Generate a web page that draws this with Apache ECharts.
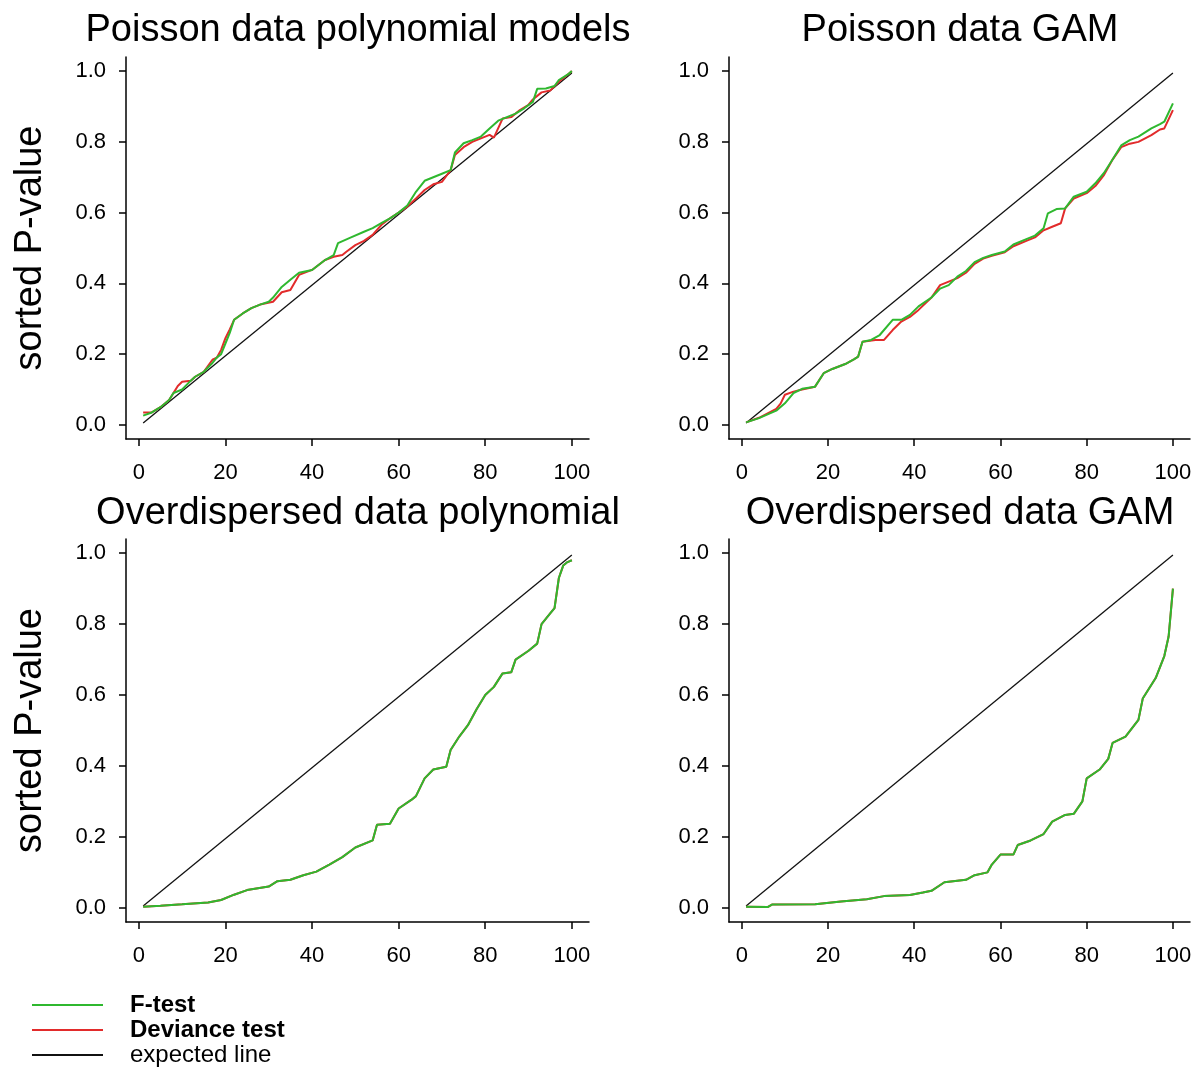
<!DOCTYPE html>
<html>
<head>
<meta charset="utf-8">
<script src="https://cdn.jsdelivr.net/npm/echarts@6/dist/echarts.min.js"></script>
<style>
  html, body { margin: 0; background: #fff; }
  #main { width: 1201px; height: 1071px; }
</style>
</head>
<body>
<div id="main"></div>
<script>
// tick labels
const xTicks = [0, 20, 40, 60, 80, 100]
const yTicks = [0, 0.2, 0.4, 0.6, 0.8, 1.0]

const panelTitles = [
  'Poisson data polynomial models',
  'Poisson data GAM',
  'Overdispersed data polynomial',
  'Overdispersed data GAM'
]

// expected line: straight from first to last rank
const expectedLine = [[1, 0.005], [100, 0.995]]

// sorted p-values [rank, p]
const poissonPolyF = [[1, 0.026], [3, 0.035], [5, 0.05], [7, 0.07], [8, 0.09], [10, 0.1], [12, 0.125], [13, 0.136], [15, 0.15], [17, 0.175], [18, 0.19], [19, 0.2], [20, 0.23], [21, 0.26], [22, 0.297], [24, 0.315], [26, 0.33], [28, 0.34], [30, 0.348], [31, 0.36], [33, 0.39], [35, 0.41], [37, 0.43], [40, 0.438], [43, 0.466], [45, 0.48], [46, 0.514], [49, 0.53], [52, 0.546], [54, 0.556], [56, 0.57], [58, 0.584], [60, 0.6], [62, 0.62], [64, 0.659], [66, 0.69], [68, 0.7], [70, 0.71], [72, 0.72], [73, 0.77], [75, 0.796], [77, 0.805], [79, 0.815], [81, 0.838], [83, 0.86], [85, 0.87], [87, 0.88], [89, 0.895], [91, 0.913], [92, 0.95], [94, 0.951], [96, 0.958], [97, 0.975], [99, 0.99], [100, 1.0]]
const poissonPolyDev = [[1, 0.035], [3, 0.035], [5, 0.05], [7, 0.07], [9, 0.11], [10, 0.122], [12, 0.125], [13, 0.136], [15, 0.15], [17, 0.184], [18, 0.19], [19, 0.212], [20, 0.245], [21, 0.27], [22, 0.297], [24, 0.315], [26, 0.33], [28, 0.34], [31, 0.348], [33, 0.375], [35, 0.381], [37, 0.424], [40, 0.438], [43, 0.466], [45, 0.475], [47, 0.48], [48, 0.49], [50, 0.508], [52, 0.52], [54, 0.537], [56, 0.565], [58, 0.584], [60, 0.6], [62, 0.617], [64, 0.64], [66, 0.664], [68, 0.68], [70, 0.687], [72, 0.72], [73, 0.763], [75, 0.785], [77, 0.8], [79, 0.81], [81, 0.82], [82, 0.812], [84, 0.866], [86, 0.87], [88, 0.89], [90, 0.905], [91, 0.92], [93, 0.94], [95, 0.945], [97, 0.97], [99, 0.99], [100, 1.0]]

const poissonGamF = [[1, 0.007], [4, 0.019], [8, 0.04], [10, 0.061], [12, 0.09], [14, 0.102], [17, 0.108], [19, 0.146], [21, 0.158], [24, 0.172], [26, 0.185], [27, 0.193], [28, 0.235], [30, 0.24], [32, 0.254], [35, 0.297], [37, 0.297], [39, 0.311], [41, 0.335], [44, 0.36], [46, 0.385], [48, 0.395], [50, 0.419], [52, 0.435], [54, 0.46], [56, 0.472], [58, 0.48], [61, 0.49], [63, 0.51], [66, 0.525], [68, 0.535], [70, 0.556], [71, 0.598], [73, 0.61], [75, 0.612], [77, 0.645], [80, 0.659], [82, 0.683], [84, 0.712], [86, 0.75], [88, 0.79], [90, 0.805], [92, 0.815], [95, 0.838], [97, 0.85], [98, 0.857], [100, 0.909]]
const poissonGamDev = [[1, 0.007], [4, 0.02], [8, 0.045], [9, 0.06], [10, 0.085], [12, 0.094], [14, 0.1], [17, 0.108], [19, 0.146], [21, 0.158], [24, 0.172], [26, 0.185], [27, 0.193], [28, 0.235], [31, 0.24], [33, 0.24], [35, 0.268], [37, 0.292], [39, 0.305], [41, 0.325], [44, 0.36], [46, 0.395], [48, 0.405], [50, 0.415], [52, 0.43], [54, 0.455], [56, 0.47], [58, 0.478], [61, 0.488], [63, 0.505], [66, 0.52], [68, 0.53], [70, 0.55], [72, 0.56], [74, 0.57], [75, 0.612], [77, 0.64], [80, 0.655], [82, 0.675], [84, 0.706], [86, 0.75], [88, 0.785], [90, 0.795], [92, 0.8], [95, 0.819], [97, 0.835], [98, 0.838], [100, 0.89]]

const overPolyF = [[1, 0.003], [5, 0.006], [10, 0.01], [16, 0.015], [19, 0.022], [22, 0.037], [25, 0.05], [30, 0.06], [32, 0.075], [35, 0.079], [38, 0.092], [41, 0.102], [44, 0.122], [47, 0.143], [50, 0.17], [54, 0.19], [55, 0.234], [58, 0.237], [60, 0.28], [63, 0.305], [64, 0.315], [66, 0.365], [68, 0.39], [71, 0.398], [72, 0.445], [74, 0.483], [76, 0.515], [78, 0.56], [80, 0.6], [82, 0.623], [84, 0.661], [86, 0.664], [87, 0.7], [90, 0.725], [92, 0.745], [93, 0.8], [95, 0.83], [96, 0.845], [97, 0.93], [98, 0.965], [99, 0.975], [100, 0.98]]
const overGamF = [[1, 0.003], [6, 0.002], [7, 0.009], [17, 0.01], [23, 0.018], [29, 0.024], [33, 0.033], [39, 0.036], [42, 0.043], [44, 0.048], [47, 0.072], [52, 0.079], [54, 0.092], [57, 0.1], [58, 0.122], [60, 0.15], [63, 0.15], [64, 0.177], [67, 0.19], [70, 0.208], [72, 0.243], [75, 0.262], [77, 0.265], [79, 0.3], [80, 0.365], [83, 0.39], [85, 0.42], [86, 0.465], [89, 0.483], [92, 0.53], [93, 0.59], [96, 0.648], [98, 0.71], [99, 0.765], [100, 0.9]]
// deviance test sits exactly under the F-test in the overdispersed panels
const overPolyDev = overPolyF
const overGamDev = overGamF

const fData = [poissonPolyF, poissonGamF, overPolyF, overGamF]
const devData = [poissonPolyDev, poissonGamDev, overPolyDev, overGamDev]

const FONT = 'Liberation Sans, Arial, sans-serif'
const GREEN = '#2fb82f'
const RED = '#e22b2b'
const BLACK = '#111'

const grids = [
  { left: 126, top: 57, width: 463, height: 382 },
  { left: 729, top: 57, width: 461, height: 382 },
  { left: 126, top: 539, width: 463, height: 383 },
  { left: 729, top: 539, width: 461, height: 383 }
]
const titleCenters = [[358, 12], [960, 12], [358, 495], [960, 495]]

// onZero off so the axes sit on the plot box edges like base R
const axisLine = { show: true, onZero: false, lineStyle: { color: '#000', width: 1.5 } }
const axisTick = (values) => ({ show: true, inside: false, length: 7, customValues: values, lineStyle: { color: '#000', width: 1.5 } })

const chart = echarts.init(document.getElementById('main'), null, { renderer: 'canvas' })

const option = {
  animation: false,
  backgroundColor: '#fff',
  title: panelTitles.map((text, i) => ({
    text,
    left: titleCenters[i][0],
    top: titleCenters[i][1],
    padding: 0,
    textAlign: 'center',
    textStyle: { fontFamily: FONT, fontSize: 38, fontWeight: 'normal', color: '#000' }
  })),
  grid: grids,
  xAxis: grids.map((g, i) => ({
    type: 'value',
    gridIndex: i,
    min: -2.96,
    max: 103.96,
    axisLine,
    axisTick: axisTick(xTicks),
    axisLabel: { customValues: xTicks, fontFamily: FONT, fontSize: 22, color: '#000', margin: 23 },
    splitLine: { show: false }
  })),
  yAxis: grids.map((g, i) => ({
    type: 'value',
    gridIndex: i,
    min: -0.04,
    max: 1.04,
    name: i % 2 === 0 ? 'sorted P-value' : '',
    nameLocation: 'middle',
    nameRotate: 90,
    nameGap: 76,
    nameTextStyle: { fontFamily: FONT, fontSize: 38, color: '#000' },
    axisLine,
    axisTick: axisTick(yTicks),
    axisLabel: { customValues: yTicks, formatter: v => v.toFixed(1), fontFamily: FONT, fontSize: 22, color: '#000', margin: 20 },
    splitLine: { show: false }
  })),
  legend: {
    orient: 'vertical',
    left: 32,
    top: 993,
    padding: 0,
    icon: 'rect',
    itemWidth: 71,
    itemHeight: 2,
    itemGap: 1,
    textStyle: { fontFamily: FONT, fontSize: 24, lineHeight: 24, color: '#000', padding: [0, 0, 0, 22] },
    data: [
      { name: 'F-test', textStyle: { fontWeight: 'bold' } },
      { name: 'Deviance test', textStyle: { fontWeight: 'bold' } },
      { name: 'expected line' }
    ]
  },
  series: []
}

grids.forEach((g, i) => {
  option.series.push(
    { name: 'expected line', type: 'line', xAxisIndex: i, yAxisIndex: i, data: expectedLine, symbol: 'none', z: 1, lineStyle: { color: BLACK, width: 1.3 }, itemStyle: { color: BLACK } },
    { name: 'Deviance test', type: 'line', xAxisIndex: i, yAxisIndex: i, data: devData[i], symbol: 'none', z: 2, lineStyle: { color: RED, width: 2 }, itemStyle: { color: RED } },
    { name: 'F-test', type: 'line', xAxisIndex: i, yAxisIndex: i, data: fData[i], symbol: 'none', z: 3, lineStyle: { color: GREEN, width: 2 }, itemStyle: { color: GREEN } }
  )
})

chart.setOption(option)
</script>
</body>
</html>
